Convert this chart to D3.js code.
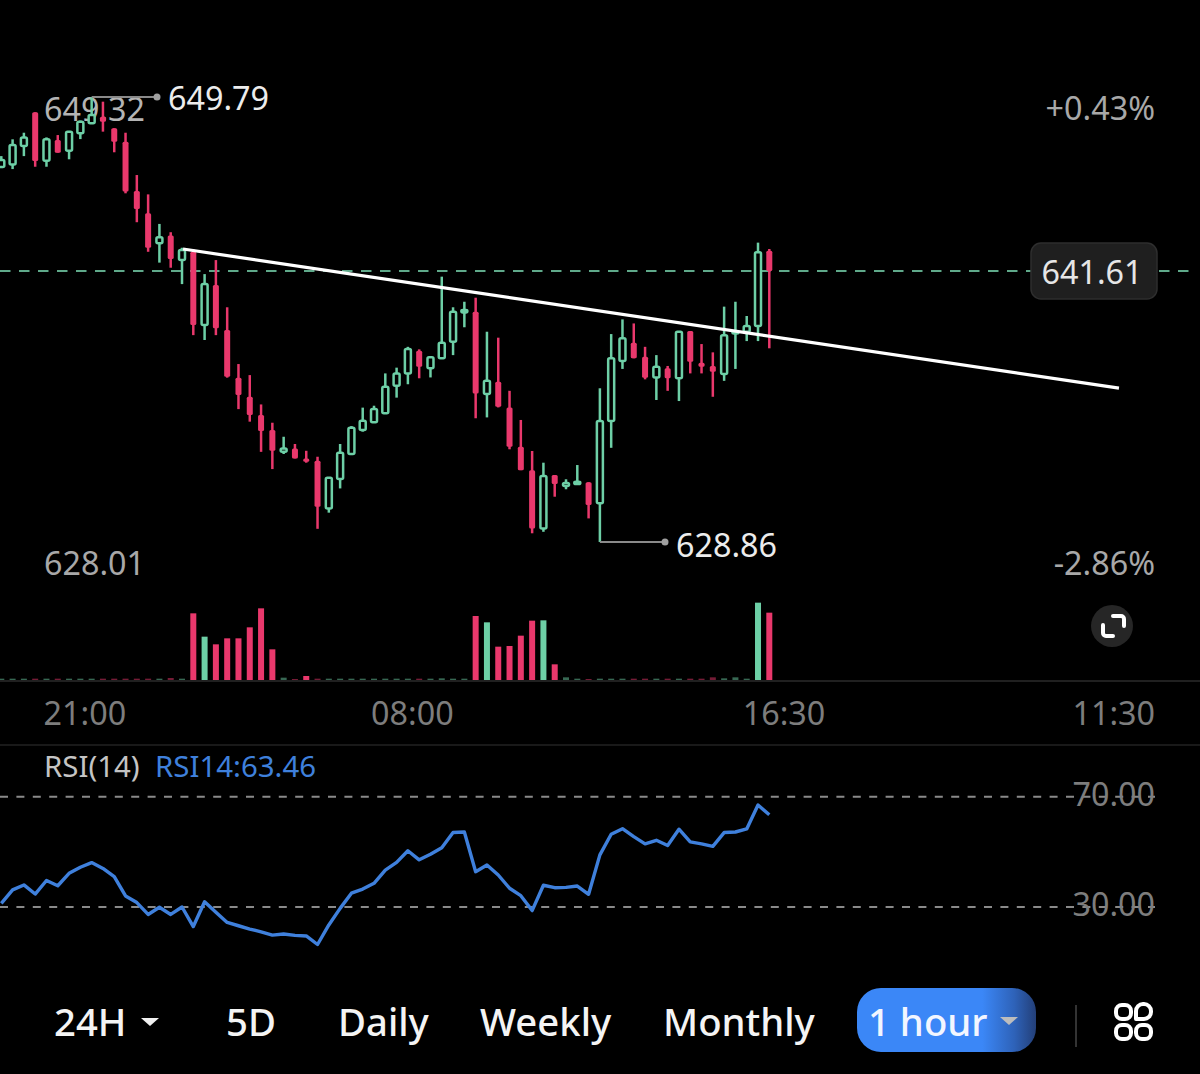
<!DOCTYPE html>
<html><head><meta charset="utf-8">
<script src="https://cdn.jsdelivr.net/npm/d3@7"></script>
<style>html,body{margin:0;padding:0;background:#000}svg{display:block}text{font-family:"Noto Sans","Open Sans",sans-serif}</style>
</head><body><svg id="c" width="1200" height="1074"></svg>
<script>
const opens=[646.50,646.62,647.49,649.07,646.79,647.77,647.26,648.08,648.55,648.86,648.32,647.69,645.37,644.32,642.91,643.27,642.12,642.51,639.07,640.95,638.83,636.59,635.69,634.83,634.13,633.10,633.26,632.79,632.68,630.44,631.82,633.00,634.13,634.49,634.91,636.21,636.79,637.86,637.03,637.50,638.28,639.66,639.69,635.82,636.40,635.19,633.34,632.24,629.50,632.01,631.49,631.59,631.67,630.68,634.55,637.37,638.23,637.57,636.60,637.03,636.56,638.78,637.29,637.14,636.76,638.67,638.75,639.02,642.56];
const highs=[647.01,647.80,648.11,649.07,647.89,648.00,648.19,648.68,649.79,649.57,648.32,648.11,646.12,645.21,643.82,643.43,642.70,642.63,641.46,642.12,639.90,637.23,636.71,635.33,634.47,633.81,633.47,633.15,632.87,631.88,633.47,634.31,635.18,635.27,636.79,637.06,638.04,637.92,637.57,641.34,639.90,640.16,640.35,638.75,638.47,635.97,634.60,633.14,632.59,632.01,631.81,632.48,631.67,636.09,638.64,639.33,639.14,638.04,637.65,637.14,638.75,638.78,638.17,637.78,639.93,640.16,639.49,642.94,642.64];
const lows=[646.45,646.40,647.01,646.51,646.51,647.17,646.86,647.81,648.55,648.16,647.19,645.26,643.90,642.51,642.00,641.76,640.99,638.59,638.36,638.59,636.59,635.11,634.52,633.10,632.29,633.00,632.79,632.59,629.48,630.24,631.38,633.00,634.05,634.49,634.91,635.65,636.28,636.56,636.60,637.50,637.65,638.96,634.68,634.72,635.19,633.22,632.24,629.27,629.34,630.99,631.34,631.59,629.97,628.86,633.29,637.00,637.50,636.51,635.54,635.97,635.49,636.79,636.79,635.69,636.44,637.00,638.31,638.31,637.97];
const closes=[646.83,647.53,647.89,646.78,647.80,647.17,648.16,648.63,648.94,648.63,647.69,645.34,644.52,642.70,643.19,642.17,642.59,639.07,640.99,638.91,636.63,635.77,634.83,634.08,633.15,633.26,632.79,632.63,630.52,631.88,633.06,634.23,634.56,635.11,636.16,636.79,637.94,637.10,637.55,638.23,639.69,639.77,635.85,636.44,635.22,633.34,632.24,629.50,631.96,631.59,631.63,631.69,630.60,634.55,637.50,638.44,637.50,636.59,637.10,636.56,638.75,637.34,637.10,636.87,638.59,638.74,639.02,642.49,641.61];
const volumes=[4,4,4,4,4,4,4,4,4,4,4,4,4,4,4,6,4,200,130,107,125,125,158,215,92,7,3,12,4,4,4,4,4,4,4,4,4,4,4,5,4,4,192,173,100,102,133,178,179,47,8,4,3,4,4,4,4,4,4,4,4,4,4,8,5,8,4,232,202];
const rsi=[31.3,36.2,38.0,34.7,39.6,37.7,42.2,44.4,46.1,44.0,41.0,34.0,31.6,27.3,29.9,27.3,30.0,22.9,31.9,28.1,24.4,23.2,22.0,21.0,19.8,20.2,19.7,19.5,16.4,23.5,29.5,35.0,36.5,38.6,43.4,46.2,50.4,47.1,49.1,51.5,57.0,57.2,42.8,45.2,41.6,36.8,34.1,28.7,37.9,37.0,37.1,37.6,34.6,48.9,56.4,58.4,55.5,52.9,54.2,52.3,58.2,53.6,52.9,52.0,57.0,57.2,58.3,67.0,63.46];
const timeLabels=["21:00","08:00","16:30","11:30"];
const timeIndex=[7.4,36.4,69.3,101];
const rsiLevels=[70,30];
const trendIdx=[16.09,98.96];
const trendPx=[642.64,636.10];
const highPrice=649.79,lowPrice=628.86,lastPrice=641.61;
const navLabels=["24H","5D","Daily","Weekly","Monthly"];

const GREEN="#6dcfa6",RED="#e9386c",BLUE="#3f80dc";
const svg=d3.select("#c");
const defs=svg.append("defs");
const g=defs.append("linearGradient").attr("id","pill");
[[0,"#3b87f7"],[.7,"#3b87f7"],[.88,"#2e62b8"],[1,"#233f78"]].forEach(s=>g.append("stop").attr("offset",s[0]).attr("stop-color",s[1]));

const x=d3.scaleLinear([0,68],[1.3,769.3]);
const y=d3.scaleLinear([lowPrice,highPrice],[542,97]);
const yv=d3.scaleLinear([0,240],[680,600]);
const yr=d3.scaleLinear([30,70],[907,796.7]);
const T=(t,px,py,s,fill,anchor,w)=>svg.append("text").text(t).attr("x",px).attr("y",py).attr("font-size",s).attr("fill",fill).attr("text-anchor",anchor||"start").attr("font-weight",w||400);

// frame lines
svg.append("line").attr("x1",0).attr("x2",1200).attr("y1",681).attr("y2",681).attr("stroke","#2b2b2b").attr("stroke-width",1.5);
svg.append("line").attr("x1",0).attr("x2",1200).attr("y1",745).attr("y2",745).attr("stroke","#222").attr("stroke-width",1.5);

// price labels
T("649.32",44,120.5,32.3,"#b4b4b4");
T("628.01",44,574.5,32.3,"#a8a8a8");
T("+0.43%",1155,119.5,32.3,"#a8a8a8","end");
T("-2.86%",1155,574.5,32.3,"#a8a8a8","end");

// last price dashed line
svg.append("line").attr("x1",0).attr("x2",1196).attr("y1",y(lastPrice)).attr("y2",y(lastPrice)).attr("stroke","#5fa98a").attr("stroke-width",2).attr("stroke-dasharray","10.5 8.5");

// candles
const idx=d3.range(opens.length);
const cg=svg.append("g");
cg.selectAll("line").data(idx).join("line").attr("x1",x).attr("x2",x).attr("y1",i=>y(highs[i])).attr("y2",i=>y(lows[i])).attr("stroke",i=>closes[i]>=opens[i]?GREEN:RED).attr("stroke-width",2.5);
cg.selectAll("rect").data(idx).join("rect")
 .attr("x",i=>x(i)-3).attr("width",6)
 .attr("y",i=>y(Math.max(opens[i],closes[i])))
 .attr("height",i=>Math.max(1,Math.abs(y(opens[i])-y(closes[i]))))
 .attr("rx",1.5)
 .attr("fill",i=>closes[i]>=opens[i]?"#000":RED)
 .attr("stroke",i=>closes[i]>=opens[i]?GREEN:"none").attr("stroke-width",2.5);

// high and low markers
const hi=highs.indexOf(highPrice),lo=lows.indexOf(lowPrice);
[[hi,highPrice,157,168,"649.79",109.5],[lo,lowPrice,665,676,"628.86",556.5]].forEach(m=>{
 svg.append("line").attr("x1",x(m[0])).attr("x2",m[2]).attr("y1",y(m[1])).attr("y2",y(m[1])).attr("stroke","#8a8a8a").attr("stroke-width",2);
 svg.append("circle").attr("cx",m[2]).attr("cy",y(m[1])).attr("r",3.5).attr("fill","#a0a0a0");
 T(m[4],m[3],m[5],32.3,"#ececec");
});

// trend line
svg.append("line").attr("x1",x(trendIdx[0])).attr("x2",x(trendIdx[1])).attr("y1",y(trendPx[0])).attr("y2",y(trendPx[1])).attr("stroke","#fff").attr("stroke-width",3.2);

// badge
svg.append("rect").attr("x",1031).attr("y",243).attr("width",126).attr("height",56).attr("rx",10).attr("fill","#1f1f1f").attr("stroke","#2e2e2e").attr("stroke-width",1.5);
T("641.61",1092,284,32.3,"#e6e6e6","middle");

// volumes
svg.append("g").selectAll("rect").data(idx).join("rect").attr("x",i=>x(i)-3).attr("width",6)
 .attr("y",i=>yv(volumes[i])).attr("height",i=>yv(0)-yv(volumes[i]))
 .attr("fill",i=>closes[i]>=opens[i]?GREEN:RED).attr("opacity",i=>volumes[i]<10?.5:1);

// expand button
svg.append("circle").attr("cx",1112).attr("cy",626).attr("r",21).attr("fill","#262626");
svg.append("path").attr("d","M1113 616h8a3 3 0 0 1 3 3v7 M1103 625v8a3 3 0 0 0 3 3h7").attr("fill","none").attr("stroke","#fff").attr("stroke-width",4).attr("stroke-linecap","round");

// time axis
timeLabels.forEach((t,i)=>{
 const anchor=i===3?"end":"middle";
 T(t,i===3?1155:x(timeIndex[i]),725,32.3,"#7d7d7d",anchor);
});

// RSI panel
T("RSI(14)",44,777,29.4,"#c4c4c4");
T("RSI14:"+rsi[rsi.length-1].toFixed(2),155,777,29.4,BLUE);
rsiLevels.forEach(l=>{
 svg.append("line").attr("x1",0).attr("x2",1155).attr("y1",yr(l)).attr("y2",yr(l)).attr("stroke","#8a8a8a").attr("stroke-width",2).attr("stroke-dasharray","8 8.4");
 T(l.toFixed(2),1155,yr(l)+9,32.3,"#7d7d7d","end");
});
svg.append("path").attr("d",d3.line().x((d,i)=>x(i)).y(d=>yr(d))(rsi)).attr("fill","none").attr("stroke",BLUE).attr("stroke-width",3.4).attr("stroke-linejoin","round");

// nav
const navX=[54,226,338,480,663];
navLabels.forEach((t,i)=>T(t,navX[i],1036,38.3,"#f4f4f4","start",500));
const caret=(cx,cy,f,w,h)=>svg.append("path").attr("d",`M${cx-w} ${cy}h${2*w}l${-w} ${h}z`).attr("fill",f);
caret(150,1018,"#f0f0f0",9,8);
svg.append("rect").attr("x",857).attr("y",988).attr("width",179).attr("height",64).attr("rx",24).attr("fill","url(#pill)");
T("1 hour",868,1036,38.3,"#f2f6ff","start",500);
caret(1009,1017,"#bdbdbd",9,8);
svg.append("line").attr("x1",1076).attr("x2",1076).attr("y1",1005).attr("y2",1047).attr("stroke","#333").attr("stroke-width",2);
[[1116,1005],[1116,1025],[1136,1025]].forEach(p=>svg.append("rect").attr("x",p[0]).attr("y",p[1]).attr("width",15).attr("height",14).attr("rx",6).attr("fill","none").attr("stroke","#fff").attr("stroke-width",4));
svg.append("path").attr("d","M1136 1019v-8a7 7 0 0 1 7-7h1a7 7 0 0 1 7 7v1a7 7 0 0 1-7 7z").attr("fill","none").attr("stroke","#fff").attr("stroke-width",4).attr("stroke-linejoin","round");
</script></body></html>
